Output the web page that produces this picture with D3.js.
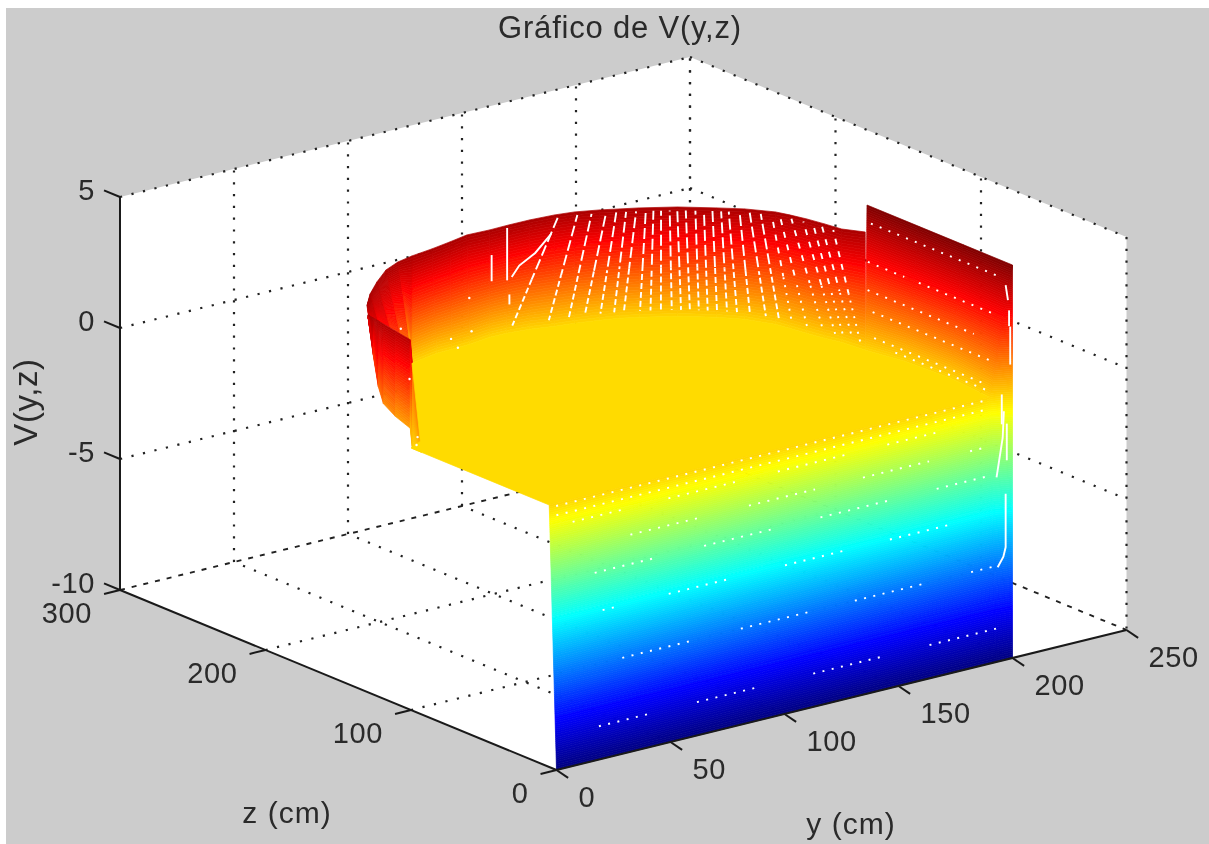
<!DOCTYPE html>
<html>
<head>
<meta charset="utf-8">
<script src="https://cdnjs.cloudflare.com/ajax/libs/d3/7.8.5/d3.min.js"></script>
<style>
    html, body { margin: 0; padding: 0; background: #fff; }
    svg { display: block; }
    text { font-family: "Liberation Sans", Arial, sans-serif; fill: #2a2a2a; }
</style>
</head>
<body>
<div id="chart"></div>
<script>
// Axis ticks
const yTicks = [0, 50, 100, 150, 200, 250];
const zTicks = [0, 100, 200, 300];
const vTicks = [-10, -5, 0, 5];

// Back wall of the surface: upper rim and the foot on the plateau
const backTopY = [6.5, 14.6, 24.5, 35, 43.6, 51.5, 61.6, 71.2, 80.5, 90.2, 98.7, 107.8, 118, 125.5, 133.7, 139.9, 145.7, 157.1, 167.2, 174.2, 180.7, 182.6, 184.6, 186.2, 187.5, 192];
const backTopZ = [140.3, 151, 161.8, 172, 177.3, 180, 182.2, 184.9, 187.8, 187.2, 187.5, 187.4, 186.2, 184.2, 179.9, 175.8, 172, 163, 152, 143.8, 132.7, 126, 117.4, 107.6, 97.9, 88.7];
const backTopV = [4.4, 4.4, 4.4, 4.4, 4.4, 4.4, 4.4, 4.4, 4.4, 4.4, 4.4, 4.4, 4.4, 4.4, 4.4, 4.4, 4.4, 4.4, 4.4, 4.4, 4.4, 4.4, 4.4, 4.4, 4.4, 4.4];
const backFootY = [8.9, 16.4, 25.6, 36.6, 45.8, 56.7, 70.2, 77, 85.3, 95.4, 102.7, 111.7, 120.6, 128.1, 137, 143.8, 150, 161, 171.1, 177.5, 182.6, 183.8, 185.2, 186.8, 188.8, 190.1];
const backFootZ = [143.4, 148.3, 154.5, 164.9, 172.6, 188.2, 192.3, 192.6, 193.3, 195.5, 195.3, 193.6, 190.3, 188.3, 185, 182, 177.9, 169.2, 158.2, 148.9, 135.7, 127.9, 118.3, 108.5, 100, 85.4];
const backFootV = [3.9, 3.4, 2.8, 2.1, 1.5, 0, 0, 0, 0, 0, 0, 0, 0, 0, 0, 0, 0, 0, 0, 0, 0, 0, 0, 0, 0, 0];

// Left face, in the y = 0 plane
const leftZ = [129.4, 126, 122.5, 119, 110.8, 100.5, 99.1, 92.9];
const leftTopV = [4.41, 4.37, 4.34, 4.3, 4.22, 4.12, 3.24, 0.15];
const leftFootV = [4.29, 2.97, 1.83, 1.26, 0.96, 0.74, 0, 0];

// Right wall, V = 5 along y = 200 down to the plateau
const rightTopY = [200, 200, 200, 200, 200];
const rightTopZ = [100, 64, 34, 0, 0];
const rightFootY = [190.1, 193.5, 194.8, 192.9, 200];
const rightFootZ = [85.4, 63.9, 34.3, 4.5, 0];

// Plateau, just under V = 0
const plateauV = -0.1;
const plateauY = [0, 0, 192.9, 194.8, 193.5, 190.1, 188.8, 186.8, 185.2, 183.8, 182.6, 177.5, 171.1, 161, 150, 143.8, 137, 128.1, 120.6, 111.7, 102.7, 95.4, 85.3, 77, 70.2, 56.7, 7];
const plateauZ = [100, 5, 4.5, 34.3, 63.9, 85.4, 100, 108.5, 118.3, 127.9, 135.7, 148.9, 158.2, 169.2, 177.9, 182, 185, 188.3, 190.3, 193.6, 195.3, 195.5, 193.3, 192.6, 192.3, 188.2, 104.6];

// Front wall, from V = -10 at z = 0 up to the plateau edge
const frontY = [0, 192.9, 200];
const frontTopZ = [5, 4.5, 0];

// White seams on the back wall: y on the rim, y on the foot
const seamTopY = [119.7, 126.7, 131.3, 135.9, 139, 142, 145.1, 147.9, 150.1, 152.3, 154.8, 157, 159.2, 161.7, 163.9, 166.1, 168.3, 170.2, 172.9, 175.2, 177.5, 179.8, 181.2, 182.7, 184.1, 185.1, 185.9, 186.8];
const seamFootY = [103.8, 117.9, 125.4, 131.2, 136.9, 141.7, 144.9, 150, 153.1, 156.2, 159.4, 162, 164.3, 166.6, 168.9, 171.3, 173.6, 175.9, 178.5, 181.2, 183, 184.1, 185.4, 186.9, 188.3, 189, 189.5, 189.9];

// White dotted rows on the front wall: V and y ranges
const frontRowV = [-8.75, -6.4, -4.43, -2.96, -1.86, -0.85, -0.45, -0.1];
const frontRowY = [
    [[19, 42], [62, 88], [113, 143], [164, 194]],
    [[30, 61], [82, 112], [132, 162], [183, 194]],
    [[22, 28], [51, 79], [102, 130], [148, 174]],
    [[19, 46], [67, 97], [118, 148], [169, 193]],
    [[35, 65], [87, 116], [137, 166], [184, 192]],
    [[10, 32], [52, 82], [100, 130], [148, 170]],
    [[3, 190]],
    [[3, 190]]
];

// White dotted rows on the right wall: V and z ranges
const rightRowV = [4.4, 3, 3, 2, 1.3, 0.4, 0.2];
const rightRowZ = [[96, 6], [95, 70], [60, 8], [93, 20], [88, 6], [85, 8], [70, 8]];

// Short white seams: [y, z, V] points
const freeSeams = [
    [[98, 187.5, 4.3], [98, 187.5, 2.3]],
    [[91.4, 187.8, 3.4], [91.4, 187.8, 2.4]],
    [[99, 187.5, 1.74], [99, 187.5, 1.36]],
    [[99.7, 187, 2.4], [103, 187, 2.77], [110, 187, 3.1], [117, 187, 3.68]],
    [[197, 0, -3.67], [197, 0, -5.7], [196, 0, -6.05], [193.5, 0, -6.4]],
    [[193, 0, -2.96], [195.7, 0, -1.5], [196.2, 0, -0.5]],
    [[197.5, 0, -1], [197.5, 0, -2.4]],
    [[199, 0, 2.67], [199, 0, 1.22]],
    [[195.3, 0, 0.16], [195.3, 0, -0.98]],
    [[198.5, 0, 3.3], [198.5, 0, 2.7]],
    [[197, 0, 4.3], [198, 0, 3.7]]
];

// Single white specks: [y, z, V]
const specks = [
    [0, 107, 4.39], [0, 101, 2.61], [0, 95.5, 0.52], [0, 96.2, 0.2],
    [83, 190, 1.89], [75, 190, 0.5], [84, 190, 0.6], [78, 190, 0.1]
];

const width = 1209;
const height = 844;

const svg = d3.select('#chart').append('svg')
    .attr('width', width)
    .attr('height', height);

const defs = svg.append('defs');
defs.append('filter').attr('id', 'soft')
    .append('feGaussianBlur').attr('stdDeviation', 0.45);
defs.append('filter').attr('id', 'softer')
    .append('feGaussianBlur').attr('stdDeviation', 0.6);

svg.append('rect')
    .attr('x', 6).attr('y', 8)
    .attr('width', width - 6).attr('height', height - 8)
    .attr('fill', '#cccccc');

// Orthographic view of the box, one scale per axis and screen direction
const originX = 556.5;
const yToX = d3.scaleLinear([0, 250], [0, 570]);
const yToY = d3.scaleLinear([0, 250], [0, -140]);
const zToX = d3.scaleLinear([0, 300], [0, -436.5]);
const zToY = d3.scaleLinear([0, 300], [0, -180]);
const vToY = d3.scaleLinear([-10, 5], [770, 377]);

function project(y, z, v) {
    return [originX + yToX(y) + zToX(z), vToY(v) + yToY(y) + zToY(z)];
}

const pathOf = d3.line();

// MATLAB jet over the V axis range
function jet(v) {
    const t = Math.max(0, Math.min(1, (v + 10) / 15));
    const c = f => Math.round(255 * Math.max(0, Math.min(1, f)));
    return `rgb(${c(1.5 - Math.abs(4 * t - 3))},${c(1.5 - Math.abs(4 * t - 2))},${c(1.5 - Math.abs(4 * t - 1))})`;
}

// Box walls and floor
const wall = svg.append('g');
wall.append('path')
    .attr('d', pathOf([
        project(0, 0, -10), project(250, 0, -10), project(250, 0, 5),
        project(250, 300, 5), project(0, 300, 5), project(0, 300, -10)
    ]) + 'Z')
    .attr('fill', '#fff');

const dotted = [];
const dashed = [];
yTicks.slice(1).forEach(y => {
    dotted.push([[y, 300, -10], [y, 300, 5]]);
    if (y < 250) dotted.push([[y, 0, -10], [y, 300, -10]]);
});
zTicks.filter(z => z > 0).forEach(z => {
    dotted.push([[250, z, -10], [250, z, 5]]);
    if (z < 300) dotted.push([[0, z, -10], [250, z, -10]]);
});
dotted.push([[0, 300, 5], [250, 300, 5]], [[250, 300, 5], [250, 0, 5]], [[250, 0, 5], [250, 0, -10]]);
vTicks.filter(v => v > -10 && v < 5).forEach(v => {
    dotted.push([[0, 300, v], [250, 300, v]], [[250, 300, v], [250, 0, v]]);
});
dashed.push([[0, 300, -10], [250, 300, -10]], [[250, 300, -10], [250, 0, -10]]);

wall.selectAll('path.dot').data(dotted).join('path')
    .attr('class', 'dot')
    .attr('d', d => pathOf(d.map(p => project(...p))))
    .attr('fill', 'none').attr('stroke', '#222')
    .attr('stroke-width', 2.2).attr('stroke-dasharray', '2.2 9.6');
wall.selectAll('path.dash').data(dashed).join('path')
    .attr('class', 'dash')
    .attr('d', d => pathOf(d.map(p => project(...p))))
    .attr('fill', 'none').attr('stroke', '#222')
    .attr('stroke-width', 1.9).attr('stroke-dasharray', '5 7');

// Fill a sheet between two curves of [y, z, V] points, row by row
function drawSheet(parent, upper, lower, rows) {
    const cells = [];
    const mix = (a, b, t) => a.map((d, i) => d + (b[i] - d) * t);
    d3.pairs(d3.range(upper.length)).forEach(([i, j]) => {
        d3.range(rows).forEach(r => {
            const s0 = r / rows;
            const s1 = (r + 1) / rows;
            const a = mix(upper[i], lower[i], s0);
            const b = mix(upper[j], lower[j], s0);
            const c = mix(upper[j], lower[j], s1);
            const d = mix(upper[i], lower[i], s1);
            cells.push({
                pts: [a, b, c, d].map(p => project(...p)),
                v: (a[2] + b[2] + c[2] + d[2]) / 4
            });
        });
    });
    parent.append('g').selectAll('path').data(cells).join('path')
        .attr('d', d => pathOf(d.pts) + 'Z')
        .attr('fill', d => jet(d.v))
        .attr('stroke', d => jet(d.v))
        .attr('stroke-width', 0.7);
}

const surface = svg.append('g').attr('filter', 'url(#softer)');

drawSheet(surface,
    backTopY.map((y, i) => [y, backTopZ[i], backTopV[i]]),
    backFootY.map((y, i) => [y, backFootZ[i], backFootV[i]]), 40);
drawSheet(surface,
    leftZ.map((z, i) => [0, z, leftTopV[i]]),
    leftZ.map((z, i) => [0, z, leftFootV[i]]), 36);
drawSheet(surface,
    rightTopY.map((y, i) => [y, rightTopZ[i], 5]),
    rightFootY.map((y, i) => [y, rightFootZ[i], 0]), 64);

surface.append('path')
    .attr('d', pathOf(plateauY.map((y, i) => project(y, plateauZ[i], 0))) + 'Z')
    .attr('fill', jet(plateauV)).attr('stroke', jet(plateauV)).attr('stroke-width', 0.7);

drawSheet(surface,
    frontY.map((y, i) => [y, frontTopZ[i], 0]),
    frontY.map(y => [y, 0, -10]), 130);

// White seams
const seams = svg.append('g')
    .attr('filter', 'url(#soft)')
    .attr('fill', 'none').attr('stroke', '#fff').attr('stroke-width', 1.9);

const rimZ = d3.scaleLinear(backTopY, backTopZ).clamp(true);
const footZ = d3.scaleLinear(backFootY, backFootZ).clamp(true);

seamTopY.forEach((top, i) => {
    const p0 = [top, rimZ(top), 4.4];
    const p1 = [seamFootY[i], footZ(seamFootY[i]), 0];
    const at = s => project(...p0.map((d, k) => d + (p1[k] - d) * s));
    const far = top > 178;
    seams.append('path')
        .attr('d', pathOf([at(0.03), at(0.55)]))
        .attr('stroke-dasharray', far ? '6 7' : '11 4')
        .attr('stroke-dashoffset', i * 4);
    seams.append('path')
        .attr('d', pathOf([at(0.55), at(0.94)]))
        .attr('stroke-dasharray', far ? '2 6' : '6 3')
        .attr('stroke-dashoffset', i * 3);
});

frontRowV.forEach((v, i) => {
    const z = (v + 10) / 10 * 5;
    frontRowY[i].forEach(([y0, y1]) => {
        seams.append('path')
            .attr('d', pathOf([project(y0, z, v), project(y1, z, v)]))
            .attr('stroke-dasharray', '2 7.5');
    });
});

rightRowV.forEach((v, i) => {
    const y = 193 + 7 * v / 5;
    const [z0, z1] = rightRowZ[i];
    seams.append('path')
        .attr('d', pathOf([project(y, z0, v), project(y, z1, v)]))
        .attr('stroke-dasharray', '2 7.5');
});

freeSeams.forEach(line => {
    seams.append('path').attr('d', pathOf(line.map(p => project(...p))));
});

seams.selectAll('circle').data(specks).join('circle')
    .attr('cx', d => project(...d)[0])
    .attr('cy', d => project(...d)[1])
    .attr('r', 1.2)
    .attr('fill', '#fff').attr('stroke', 'none');

// Axes and ticks
const axes = svg.append('g')
    .attr('fill', 'none').attr('stroke', '#1a1a1a').attr('stroke-width', 2);
[
    [[0, 0, -10], [250, 0, -10]],
    [[0, 0, -10], [0, 300, -10]],
    [[0, 300, -10], [0, 300, 5]]
].forEach(d => axes.append('path').attr('d', pathOf(d.map(p => project(...p)))));

yTicks.forEach(y => axes.append('path')
    .attr('d', pathOf([project(y, 0, -10), project(y, -8, -10.12)])));
zTicks.forEach(z => axes.append('path')
    .attr('d', pathOf([project(0, z, -10), project(-7, z, -10)])));
vTicks.forEach(v => axes.append('path')
    .attr('d', pathOf([project(0, 300, v), project(0, 311, v)])));

// Text
const labels = svg.append('g').attr('filter', 'url(#soft)');
const fontSize = 29;

function label(x, y, text, anchor, size, spacing) {
    return labels.append('text')
        .attr('x', x).attr('y', y)
        .attr('text-anchor', anchor)
        .attr('dy', '0.36em')
        .style('font-size', (size || fontSize) + 'px')
        .style('letter-spacing', (spacing === undefined ? 0.6 : spacing) + 'px')
        .text(text);
}

yTicks.forEach(y => {
    const [px, py] = project(y, 0, -10);
    label(px + 22, py + 27, y, 'start');
});
zTicks.forEach(z => {
    const [px, py] = project(0, z, -10);
    label(px - 28, py + 23, z, 'end');
});
vTicks.forEach(v => {
    const [, py] = project(0, 300, v);
    label(95, py - 7, v, 'end');
});

label(620, 27, 'Gráfico de V(y,z)', 'middle', 31, 0.8);
label(287, 812, 'z (cm)', 'middle', 30, 1);
label(851, 823, 'y (cm)', 'middle', 30, 1);
label(0, 0, 'V(y,z)', 'middle', 33, 0.6)
    .attr('x', null).attr('y', null)
    .attr('transform', 'translate(25,402) rotate(-90)');
</script>
</body>
</html>
